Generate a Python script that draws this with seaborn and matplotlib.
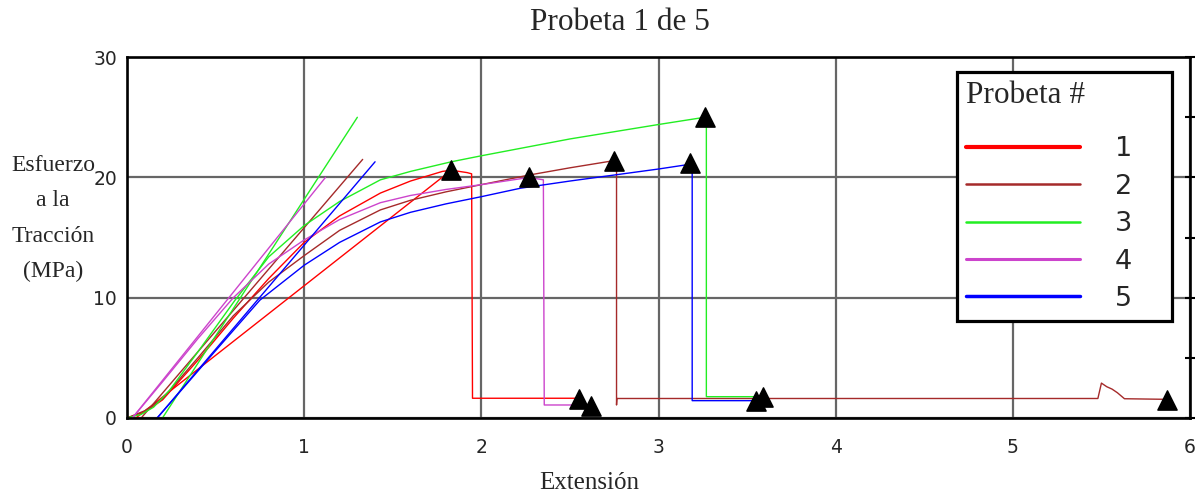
import pandas as pd
import matplotlib
matplotlib.use("Agg")
import matplotlib.pyplot as plt
from matplotlib.lines import Line2D
from matplotlib.ticker import MultipleLocator
import seaborn as sns

# curvas esfuerzo (MPa) vs extension, una por probeta
ext_1 = [0.0, 0.1, 0.2, 0.4, 0.6, 0.8, 1.0, 1.2, 1.43, 1.6, 1.78, 1.83, 1.92, 1.945, 1.95, 2.55]
esf_1 = [0.0, 0.5, 1.5, 4.8, 8.3, 11.6, 14.6, 16.8, 18.7, 19.7, 20.5, 20.6, 20.4, 20.3, 1.64, 1.64]

ext_2 = [0.0, 0.1, 0.2, 0.4, 0.6, 0.8, 1.0, 1.2, 1.43, 1.6, 1.8, 2.0, 2.27, 2.5, 2.75, 2.763, 2.763,
         2.765, 5.48, 5.50, 5.53, 5.56, 5.59, 5.63, 5.87]
esf_2 = [0.0, 0.6, 1.6, 5.0, 8.5, 11.3, 13.5, 15.6, 17.3, 18.1, 18.8, 19.4, 20.2, 20.8, 21.4, 21.4, 1.08,
         1.62, 1.62, 2.9, 2.6, 2.4, 2.1, 1.6, 1.55]

ext_3 = [0.0, 0.08, 0.15, 0.24, 0.4, 0.61, 0.8, 1.0, 1.2, 1.43, 1.6, 1.83, 2.0, 2.5, 3.0, 3.26, 3.27, 3.27, 3.58]
esf_3 = [0.0, 0.3, 0.9, 2.3, 5.5, 9.8, 13.4, 16.0, 18.0, 19.8, 20.5, 21.3, 21.8, 23.2, 24.4, 25.0, 25.0, 1.77, 1.77]

ext_4 = [0.03, 0.2, 0.4, 0.6, 0.8, 1.0, 1.2, 1.43, 1.6, 1.8, 2.0, 2.27, 2.35, 2.355, 2.62]
esf_4 = [0.0, 3.0, 6.6, 10.0, 12.8, 14.8, 16.5, 17.9, 18.5, 19.0, 19.4, 20.0, 19.8, 1.08, 1.08]

ext_5 = [0.17, 0.3, 0.5, 0.75, 1.0, 1.2, 1.43, 1.6, 1.8, 2.0, 2.22, 2.5, 2.8, 3.0, 3.18, 3.19, 3.19, 3.55]
esf_5 = [0.0, 2.2, 5.6, 9.8, 12.7, 14.6, 16.3, 17.1, 17.8, 18.4, 19.1, 19.7, 20.3, 20.7, 21.1, 21.1, 1.44, 1.44]

# rectas de ajuste inicial de cada probeta
rec_ext_1 = [0.05, 1.83]
rec_esf_1 = [0.0, 20.6]
rec_ext_2 = [0.08, 1.33]
rec_esf_2 = [0.0, 21.5]
rec_ext_3 = [0.2, 1.30]
rec_esf_3 = [0.0, 25.0]
rec_ext_4 = [0.03, 1.12]
rec_esf_4 = [0.0, 20.0]
rec_ext_5 = [0.17, 1.40]
rec_esf_5 = [0.0, 21.3]

# marcadores de rotura y fin de ensayo
tri_ext = [1.83, 2.27, 2.75, 3.18, 3.26, 2.55, 2.62, 3.55, 3.59, 5.87]
tri_esf = [20.6, 20.0, 21.4, 21.2, 25.0, 1.6, 1.0, 1.4, 1.75, 1.5]

probetas = ["1", "2", "3", "4", "5"]
colores = ["#ff0000", "#a52a2a", "#22ee22", "#cc44cc", "#0000ff"]

curvas = [(ext_1, esf_1), (ext_2, esf_2), (ext_3, esf_3), (ext_4, esf_4), (ext_5, esf_5)]
rectas = [(rec_ext_1, rec_esf_1), (rec_ext_2, rec_esf_2), (rec_ext_3, rec_esf_3),
          (rec_ext_4, rec_esf_4), (rec_ext_5, rec_esf_5)]

filas = []
for p, (xs, ys) in zip(probetas, curvas):
    for x, y in zip(xs, ys):
        filas.append({"probeta": p, "tramo": "c" + p, "ext": x, "esf": y})
for p, (xs, ys) in zip(probetas, rectas):
    for x, y in zip(xs, ys):
        filas.append({"probeta": p, "tramo": "r" + p, "ext": x, "esf": y})
df = pd.DataFrame(filas)

sns.set_style("white")
plt.rcParams["font.family"] = ["DejaVu Sans"]

fig = plt.figure(figsize=(12.03, 4.97), dpi=100)
ax = fig.add_axes([0.1056, 0.159, 0.8836, 0.726])

sns.lineplot(data=df, x="ext", y="esf", hue="probeta", units="tramo", estimator=None, sort=False,
             palette=dict(zip(probetas, colores)), linewidth=1.0, legend=False, ax=ax)
sns.scatterplot(x=tri_ext, y=tri_esf, marker="^", color="black", edgecolor="black", s=190,
                zorder=5, ax=ax)

ax.set_xlim(0, 6)
ax.set_ylim(0, 30)
ax.xaxis.set_major_locator(MultipleLocator(1))
ax.xaxis.set_minor_locator(MultipleLocator(0.5))
ax.yaxis.set_major_locator(MultipleLocator(10))
ax.yaxis.set_minor_locator(MultipleLocator(5))
ax.grid(which="major", color="#666666", linewidth=1.6)
ax.set_axisbelow(True)
for s in ax.spines.values():
    s.set_color("black")
    s.set_linewidth(1.9)
ax.tick_params(which="both", direction="inout", length=7.5, width=1.5, color="black",
               labelsize=13.5, right=True)
ax.tick_params(axis="x", which="both", pad=11)
ax.tick_params(axis="y", which="both", pad=3.5)
ax.set_xlabel("")
ax.set_ylabel("")

serif = "Liberation Serif"
fig.text(0.515, 0.955, "Probeta 1 de 5", ha="center", va="center", family=serif, size=22.5)
fig.text(0.49, 0.028, "Extensión", ha="center", va="center", family=serif, size=18)
fig.text(0.044, 0.56, "Esfuerzo\na la\nTracción\n(MPa)", ha="center", va="center",
         multialignment="center", family=serif, size=17, linespacing=1.9)

manejadores = [Line2D([], [], color=c, linewidth=lw) for c, lw in zip(colores, [3.0, 1.8, 1.8, 2.2, 2.5])]
x0 = (957 - 127) / 1063
ancho = (1172 - 957) / 1063
y1 = (418 - 72) / 361
leg = ax.legend(manejadores, probetas, title="Probeta #", loc="upper left",
                bbox_to_anchor=(x0, y1 - 0.5, ancho, 0.5), mode="expand", borderaxespad=0,
                prop={"family": "DejaVu Sans", "size": 19.5},
                title_fontproperties={"family": serif, "size": 22.5}, alignment="left",
                handlelength=4.2, handletextpad=1.3, labelspacing=0.42, borderpad=0.33,
                fancybox=False, framealpha=1, edgecolor="black")
leg.get_frame().set_linewidth(2.3)
leg._legend_box.sep = 19

fig.savefig("out.png", dpi=100)
